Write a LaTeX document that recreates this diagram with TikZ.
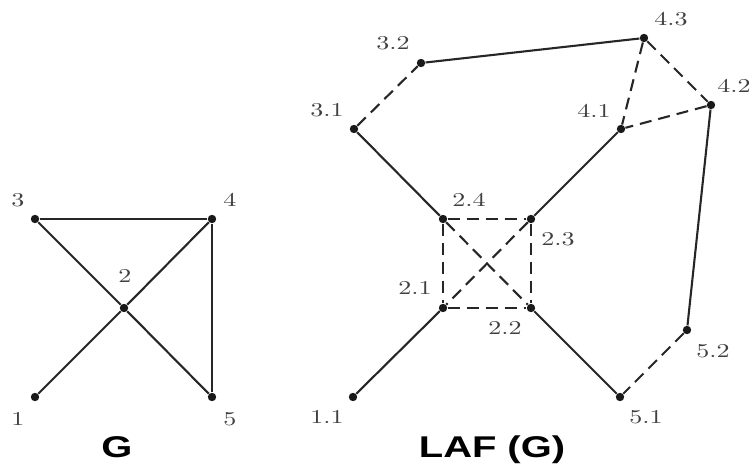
\documentclass[tikz,border=0pt]{standalone}
\usepackage{fontspec}
\usepackage{graphicx}
\newfontfamily\titlefont{Liberation Sans}
\newcommand{\wide}[1]{\scalebox{1.33}[1]{#1}}

\begin{document}
\begin{tikzpicture}[
    x=0.5pt, y=-0.5pt,
    vertex/.style={circle, fill=black!90, inner sep=0pt, minimum size=4.2pt},
    lbl/.style={font=\fontsize{9.8}{11}\selectfont, text=black!75, inner sep=0pt},
    edge/.style={line width=1.05pt, draw=black!85},
    dedge/.style={edge, dash pattern=on 6pt off 3.5pt},
    title/.style={font=\titlefont\bfseries\fontsize{15}{18}\selectfont, inner sep=0pt}
]
\useasboundingbox (0,0) rectangle (751,475);

% graph G
\node[vertex] (v1) at (35,397) {};
\node[vertex] (v2) at (124,308) {};
\node[vertex] (v3) at (35,219) {};
\node[vertex] (v4) at (212,219) {};
\node[vertex] (v5) at (212,397) {};
\node[lbl] (l1) at (18,419) {\wide{1}};
\node[lbl] (l2) at (125,276) {\wide{2}};
\node[lbl] (l3) at (18,200) {\wide{3}};
\node[lbl] (l4) at (230,200) {\wide{4}};
\node[lbl] (l5) at (230,419) {\wide{5}};

\draw[edge] (v3) -- (v4);
\draw[edge] (v4) -- (v5);
\draw[edge] (v3) -- (v2);
\draw[edge] (v2) -- (v5);
\draw[edge] (v1) -- (v2);
\draw[edge] (v2) -- (v4);

\node[title] (tG) at (117,447) {\wide{G}};

% line graph LAF(G)
\node[vertex] (u11) at (353,397) {};
\node[vertex] (u21) at (443,308) {};
\node[vertex] (u22) at (531,308) {};
\node[vertex] (u23) at (531,219) {};
\node[vertex] (u24) at (443,219) {};
\node[vertex] (u31) at (354,129) {};
\node[vertex] (u32) at (421,63) {};
\node[vertex] (u41) at (621,129) {};
\node[vertex] (u42) at (711,105) {};
\node[vertex] (u43) at (644,38) {};
\node[vertex] (u51) at (620,397) {};
\node[vertex] (u52) at (687,330) {};

\node[lbl] (m11) at (327,417) {\wide{1.1}};
\node[lbl] (m21) at (415,288) {\wide{2.1}};
\node[lbl] (m22) at (505,328) {\wide{2.2}};
\node[lbl] (m23) at (558,239) {\wide{2.3}};
\node[lbl] (m24) at (469,200) {\wide{2.4}};
\node[lbl] (m31) at (327,110) {\wide{3.1}};
\node[lbl] (m32) at (393,43) {\wide{3.2}};
\node[lbl] (m41) at (594,111) {\wide{4.1}};
\node[lbl] (m42) at (734,86) {\wide{4.2}};
\node[lbl] (m43) at (671,19) {\wide{4.3}};
\node[lbl] (m51) at (646,417) {\wide{5.1}};
\node[lbl] (m52) at (713,351) {\wide{5.2}};

\draw[edge] (u32) -- (u43);
\draw[edge] (u31) -- (u24);
\draw[edge] (u41) -- (u23);
\draw[edge] (u42) -- (u52);
\draw[edge] (u21) -- (u11);
\draw[edge] (u22) -- (u51);

\draw[dedge] (u31) -- (u32);
\draw[dedge] (u43) -- (u41);
\draw[dedge] (u43) -- (u42);
\draw[dedge] (u42) -- (u41);
\draw[dedge] (u24) -- (u23);
\draw[dedge] (u23) -- (u22);
\draw[dedge] (u21) -- (u22);
\draw[dedge] (u24) -- (u21);
\draw[dedge] (u24) -- (u22);
\draw[dedge] (u23) -- (u21);
\draw[dedge] (u52) -- (u51);

\node[title] (tL) at (492,450) {\wide{LAF (G)}};
\end{tikzpicture}
\end{document}
